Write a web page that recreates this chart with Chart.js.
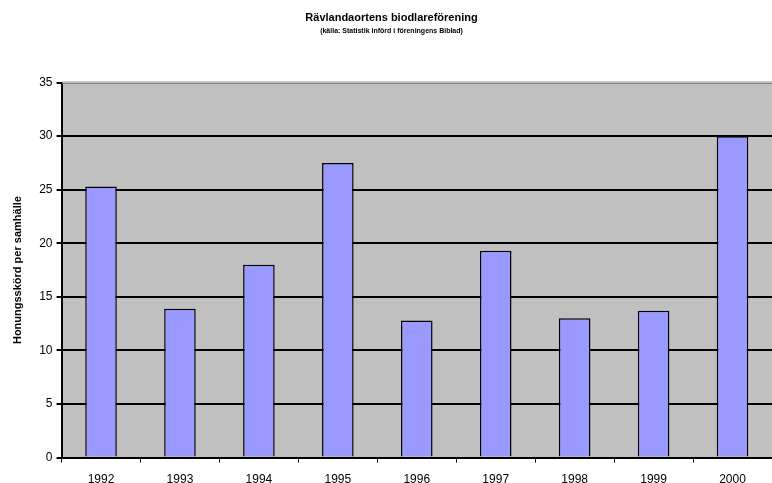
<!DOCTYPE html>
<html>
<head>
<meta charset="utf-8">
<script src="https://cdn.jsdelivr.net/npm/chart.js@4"></script>
<style>
  html, body { margin: 0; padding: 0; background: #ffffff; overflow: hidden; }
  #wrap { width: 772px; height: 489px; position: relative; }
</style>
</head>
<body>
<div id="wrap"><canvas id="honungChart"></canvas></div>
<script>
// data
var years = ['1992', '1993', '1994', '1995', '1996', '1997', '1998', '1999', '2000'];
var skord = [25.3, 13.9, 18.0, 27.5, 12.8, 19.3, 13.0, 13.7, 30.0];
var yTicks = [0, 5, 10, 15, 20, 25, 30, 35];

// grey plot background, and the thin grey line along the top edge
var plotBackground = {
    id: 'plotBackground',
    beforeDraw: function (chart) {
        var a = chart.chartArea;
        var c = chart.ctx;
        c.save();
        c.fillStyle = '#c0c0c0';
        c.fillRect(a.left, a.top, a.right - a.left, a.bottom - a.top);
        c.restore();
    },
    afterDatasetsDraw: function (chart) {
        var a = chart.chartArea;
        var c = chart.ctx;
        var yTop = chart.scales.y.getPixelForValue(35);
        c.save();
        c.fillStyle = '#c0c0c0';
        c.fillRect(a.left + 1, yTop - 1.5, a.right - a.left, 3);
        c.strokeStyle = '#808080';
        c.lineWidth = 1;
        c.beginPath();
        c.moveTo(a.left + 1, Math.round(yTop) + 0.5);
        c.lineTo(a.right, Math.round(yTop) + 0.5);
        c.stroke();
        c.restore();
    }
};

Chart.defaults.font.family = '"Liberation Sans", Arial, sans-serif';
Chart.defaults.color = '#000000';

var ctx = document.getElementById('honungChart').getContext('2d');
var chartHonung = new Chart(ctx, {
    type: 'bar',
    data: {
        labels: years,
        datasets: [{
            data: skord,
            backgroundColor: '#9999ff',
            borderColor: '#000000',
            borderWidth: 1.5,
            barPercentage: 0.4,
            categoryPercentage: 1.0
        }]
    },
    options: {
        responsive: true,
        maintainAspectRatio: false,
        animation: false,
        layout: { padding: { left: 11, right: 0, top: 11, bottom: -8 } },
        plugins: {
            legend: { display: false },
            tooltip: { enabled: false },
            title: {
                display: true,
                text: 'Rävlandaortens biodlareförening',
                font: { size: 11, weight: 'bold' },
                padding: { top: 0, bottom: 3 }
            },
            subtitle: {
                display: true,
                text: '(källa: Statistik införd i föreningens Biblad)',
                font: { size: 7, weight: 'bold' },
                padding: { top: 0, bottom: 47 }
            }
        },
        scales: {
            x: {
                grid: {
                    offset: true,
                    drawOnChartArea: false,
                    color: '#000000',
                    tickLength: 5,
                    lineWidth: 1
                },
                border: { color: '#000000', width: 2 },
                ticks: { font: { size: 12 }, padding: 10 }
            },
            y: {
                min: 0,
                max: 35,
                afterBuildTicks: function (axis) {
                    axis.ticks = yTicks.map(function (v) { return { value: v }; });
                },
                grid: {
                    color: '#000000',
                    lineWidth: 2,
                    tickLength: 5
                },
                border: { color: '#000000', width: 2 },
                ticks: { font: { size: 12 }, padding: 4 },
                title: {
                    display: true,
                    text: 'Honungsskörd per samhälle',
                    font: { size: 11, weight: 'bold' },
                    padding: { top: 0, bottom: 11 }
                }
            }
        }
    },
    plugins: [plotBackground]
});
</script>
</body>
</html>
